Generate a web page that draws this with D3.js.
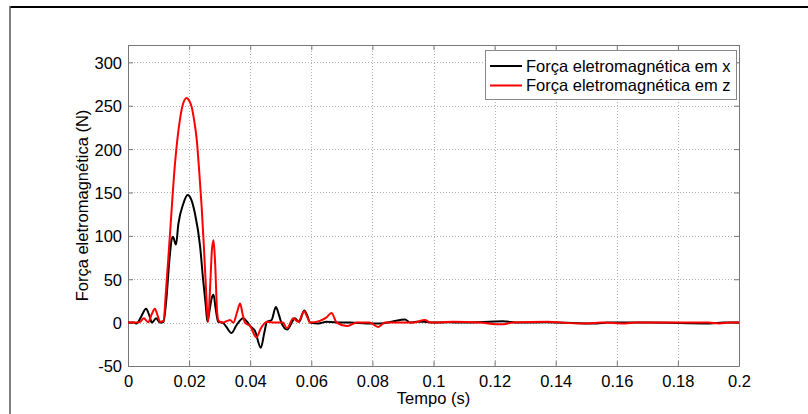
<!DOCTYPE html>
<html>
<head>
<meta charset="utf-8">
<script src="https://cdn.jsdelivr.net/npm/d3@7"></script>
<style>
  html, body { margin: 0; padding: 0; background: #fff; }
  svg { display: block; font-family: "Liberation Sans", Arial, sans-serif; }
</style>
</head>
<body>
<svg id="chart" width="808" height="414"></svg>
<script>
// Electromagnetic force components over time
const timeX = [0, 0.002, 0.0028, 0.0042, 0.0059, 0.0070, 0.0078, 0.0092, 0.0105, 0.0116, 0.0125, 0.0135,
  0.0143, 0.0147, 0.0157, 0.0165, 0.0181, 0.0195, 0.0208, 0.0219, 0.0236, 0.0246, 0.0254, 0.0260, 0.0266,
  0.0274, 0.0280, 0.0287, 0.0295, 0.0310, 0.0322, 0.0339, 0.0355, 0.0377, 0.0390, 0.0400, 0.0415, 0.0435,
  0.0446, 0.0455, 0.0470, 0.0484, 0.0494, 0.0502, 0.0521, 0.0536, 0.0546, 0.0560, 0.0577, 0.0587, 0.0596,
  0.0623, 0.0650, 0.0700, 0.0727, 0.0781, 0.0825, 0.0863, 0.0907, 0.0923, 0.0945, 0.0970, 0.1000, 0.1050,
  0.1100, 0.1227, 0.1280, 0.1370, 0.1500, 0.1535, 0.1570, 0.1700, 0.1905, 0.1950, 0.2000];
const forceX = [0, 0, -1, 6, 16, 8, 0, 5, 0, 1, 25, 70,
  96, 99, 90, 114, 137, 147, 141, 126, 88, 49, 22, 1, 12,
  28, 32, 16, 1, 0, -5, -12, -3, 5, 1, -4, -9, -29,
  -12, 1, 3, 18, 9, 0, -8, 0, 5, 1, 14, 8, 0,
  -1, 1, 0, 0, -1, -1, 1, 3.5, 0, 1, 1, 0, 0.5,
  0, 1.5, 0, 0.5, -1, -1, 0, 0, -1, 0, 0];

const timeZ = [0, 0.003, 0.0040, 0.0052, 0.0066, 0.0078, 0.0088, 0.0097, 0.0105, 0.0116, 0.0125, 0.0137,
  0.0154, 0.0170, 0.0180, 0.0192, 0.0200, 0.0208, 0.0217, 0.0225, 0.0233, 0.0241, 0.0248, 0.0255, 0.0262,
  0.0268, 0.0275, 0.0280, 0.0285, 0.0292, 0.0297, 0.0310, 0.0325, 0.0334, 0.0345, 0.0357, 0.0367, 0.0375,
  0.0383, 0.0400, 0.0420, 0.0435, 0.0455, 0.0480, 0.0507, 0.0520, 0.0541, 0.0557, 0.0577, 0.0587, 0.0596,
  0.0628, 0.0650, 0.0666, 0.0683, 0.0716, 0.0749, 0.0790, 0.0819, 0.0841, 0.0900, 0.0934, 0.0972, 0.0990,
  0.1065, 0.1150, 0.1223, 0.1260, 0.1375, 0.1420, 0.1500, 0.1550, 0.1627, 0.1660, 0.1900, 0.1935, 0.1970, 0.2000];
const forceZ = [0, 0, 1, 5, 0.5, 10, 16, 8, 1, 2, 40, 100,
  184, 234, 252, 259, 256, 249, 232, 211, 175, 134, 90, 41, 1,
  35, 85, 95, 70, 11, 2, 0, 2, 3, 0, 12, 22, 10,
  0, -4, -17, -6.5, 1, 0, 0, -6.5, 5, 1, 13, 6, 0,
  2, 6, 11, 0, -4, 0, 0, -5, 0, 0, 0, 3, 0,
  1, 0, -2, 0, 1, 0, -1, 0, -1, 0, 0, -1, 0, 0];

const xTicks = [0, 0.02, 0.04, 0.06, 0.08, 0.1, 0.12, 0.14, 0.16, 0.18, 0.2];
const yTicks = [-50, 0, 50, 100, 150, 200, 250, 300];
const seriesNames = ["Força eletromagnética em x", "Força eletromagnética em z"];
const seriesColors = ["#000000", "#ff0000"];

const svg = d3.select("#chart");
const plotL = 128, plotR = 739, plotT = 45, plotB = 366;

const x = d3.scaleLinear().domain([0, 0.2]).range([plotL, plotR]);
const y = d3.scaleLinear().domain([-50, 320]).range([plotB, plotT]);

// figure frame
svg.append("line").attr("x1", 10).attr("x2", 808).attr("y1", 7).attr("y2", 7)
  .attr("stroke", "#000").attr("stroke-width", 2);
svg.append("line").attr("x1", 10).attr("x2", 10).attr("y1", 6).attr("y2", 414)
  .attr("stroke", "#555").attr("stroke-width", 1.5);

// plot background
svg.append("rect").attr("x", plotL).attr("y", plotT).attr("width", plotR - plotL).attr("height", plotB - plotT)
  .attr("fill", "#fff");

// grid
const grid = svg.append("g").attr("stroke", "#b0b0b0").attr("stroke-width", 1).attr("stroke-dasharray", "1,2");
grid.selectAll("line.gx").data(xTicks.slice(1, -1)).join("line")
  .attr("x1", d => Math.round(x(d)) + 0.5).attr("x2", d => Math.round(x(d)) + 0.5)
  .attr("y1", plotT).attr("y2", plotB);
grid.selectAll("line.gy").data(yTicks.slice(1)).join("line")
  .attr("y1", d => Math.round(y(d)) + 0.5).attr("y2", d => Math.round(y(d)) + 0.5)
  .attr("x1", plotL).attr("x2", plotR);

// plain ASCII hyphen for negative numbers
const plainNum = d => String(+d.toFixed(6));

// axes (ticks inward, MATLAB style)
const axisColor = "#777";
const tickFont = "16.5px";
const xAxis = svg.append("g").attr("transform", `translate(0,${plotB})`)
  .call(d3.axisBottom(x).tickValues(xTicks).tickSizeInner(-5).tickSizeOuter(0).tickPadding(9)
    .tickFormat(plainNum));
const yAxis = svg.append("g").attr("transform", `translate(${plotL},0)`)
  .call(d3.axisLeft(y).tickValues(yTicks).tickSizeInner(-5).tickSizeOuter(0).tickPadding(6)
    .tickFormat(plainNum));
const xTop = svg.append("g").attr("transform", `translate(0,${plotT})`)
  .call(d3.axisTop(x).tickValues(xTicks).tickSizeInner(-5).tickSizeOuter(0).tickFormat(""));
const yRight = svg.append("g").attr("transform", `translate(${plotR},0)`)
  .call(d3.axisRight(y).tickValues(yTicks).tickSizeInner(-5).tickSizeOuter(0).tickFormat(""));
[xAxis, yAxis, xTop, yRight].forEach(g => {
  g.select(".domain").attr("stroke", axisColor);
  g.selectAll(".tick line").attr("stroke", axisColor);
  g.selectAll("text").attr("fill", "#000").style("font-size", tickFont)
    .style("font-family", "'Liberation Sans', Arial, sans-serif");
});
yAxis.selectAll("text").attr("x", -6).attr("dy", "0.36em");

// series
const line = d3.line().x(d => x(d[0])).y(d => y(d[1])).curve(d3.curveMonotoneX);
const dataX = timeX.map((t, i) => [t, forceX[i]]);
const dataZ = timeZ.map((t, i) => [t, forceZ[i]]);
svg.append("path").datum(dataX).attr("d", line).attr("fill", "none")
  .attr("stroke", seriesColors[0]).attr("stroke-width", 2).attr("stroke-linejoin", "round");
svg.append("path").datum(dataZ).attr("d", line).attr("fill", "none")
  .attr("stroke", seriesColors[1]).attr("stroke-width", 2).attr("stroke-linejoin", "round");

// axis labels
svg.append("text").attr("x", (plotL + plotR) / 2).attr("y", 404).attr("text-anchor", "middle")
  .style("font-size", "16.5px").text("Tempo (s)");
svg.append("text").attr("transform", `translate(88,${(plotT + plotB) / 2}) rotate(-90)`)
  .attr("text-anchor", "middle").style("font-size", "16.5px").text("Força eletromagnética (N)");

// legend
const lg = svg.append("g");
lg.append("rect").attr("x", 485.5).attr("y", 50.5).attr("width", 251).attr("height", 49)
  .attr("fill", "#fff").attr("stroke", "#888").attr("stroke-width", 1);
seriesNames.forEach((name, i) => {
  const cy = 66 + i * 19.5;
  lg.append("line").attr("x1", 490).attr("x2", 522).attr("y1", cy).attr("y2", cy)
    .attr("stroke", seriesColors[i]).attr("stroke-width", 2);
  lg.append("text").attr("x", 526).attr("y", cy).attr("dy", "0.36em")
    .style("font-size", "16.5px").text(name);
});
</script>
</body>
</html>
